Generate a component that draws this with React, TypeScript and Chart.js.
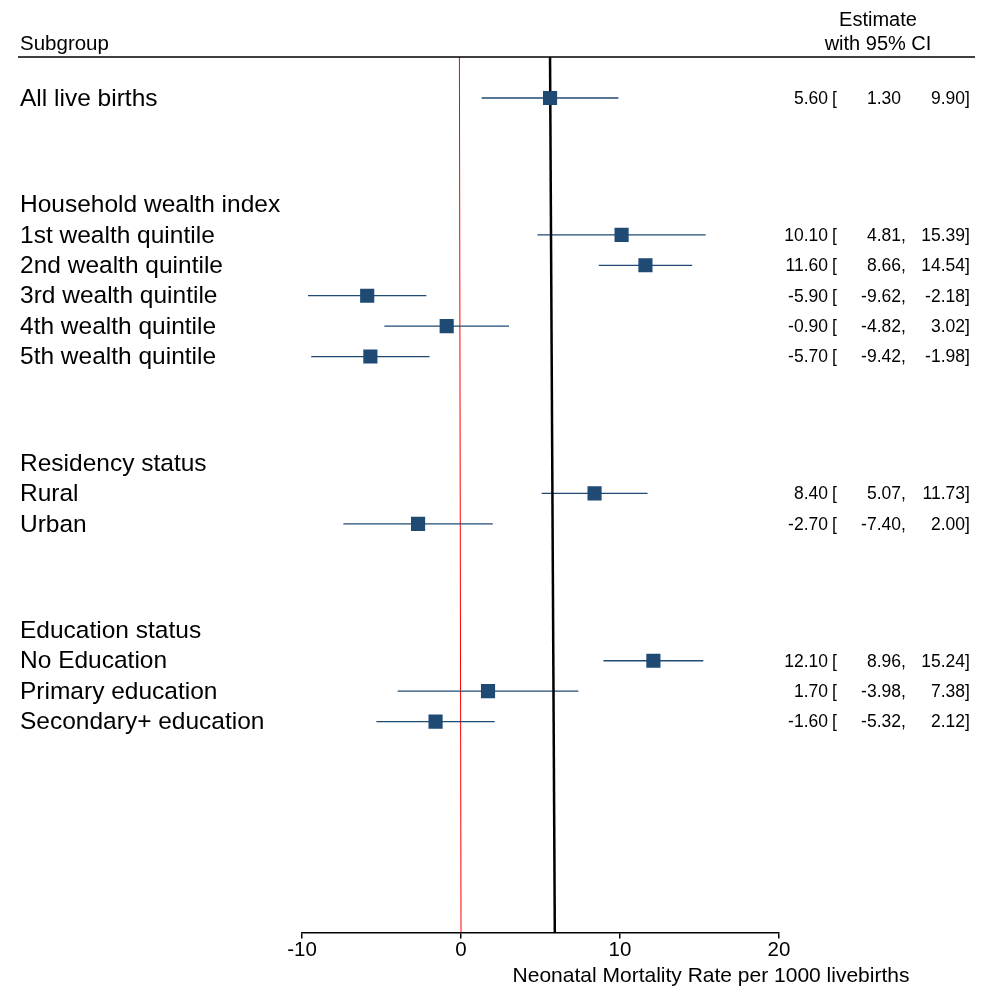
import React, { useEffect, useRef } from "react";
import { Chart, registerables } from "chart.js";

Chart.register(...registerables);

const rowLabels = [
  "All live births",
  "Household wealth index",
  "1st wealth quintile",
  "2nd wealth quintile",
  "3rd wealth quintile",
  "4th wealth quintile",
  "5th wealth quintile",
  "Residency status",
  "Rural",
  "Urban",
  "Education status",
  "No Education",
  "Primary education",
  "Secondary+ education",
];
const rowPositions = [0, 3.5, 4.5, 5.5, 6.5, 7.5, 8.5, 12, 13, 14, 17.5, 18.5, 19.5, 20.5];
const estimates = [5.6, null, 10.1, 11.6, -5.9, -0.9, -5.7, null, 8.4, -2.7, null, 12.1, 1.7, -1.6];
const lowerCI = [1.3, null, 4.81, 8.66, -9.62, -4.82, -9.42, null, 5.07, -7.4, null, 8.96, -3.98, -5.32];
const upperCI = [9.9, null, 15.39, 14.54, -2.18, 3.02, -1.98, null, 11.73, 2.0, null, 15.24, 7.38, 2.12];
const ciSeparators = ["", "", ",", ",", ",", ",", ",", "", ",", ",", "", ",", ",", ","];
const xTicks = [-10, 0, 10, 20];
const nullLineX = [-0.1, 0];
const overallLineX = [5.6, 5.9];
const xTitle = "Neonatal Mortality Rate per 1000 livebirths";

const Y_MIN = -1.347;
const Y_MAX = 27.43;
const FONT = "'Liberation Sans', Arial, Helvetica, sans-serif";
const BLUE = "#1f4a74";

const textPlugin = {
  id: "forestText",
  afterDraw(chart: any) {
    const ctx = chart.ctx as CanvasRenderingContext2D;
    const ys = chart.scales.y;
    const top = chart.chartArea.top;
    ctx.save();
    ctx.fillStyle = "#000";
    ctx.textBaseline = "middle";
    // header
    ctx.font = `20.5px ${FONT}`;
    ctx.textAlign = "left";
    ctx.fillText("Subgroup", 20, 44);
    ctx.font = `20px ${FONT}`;
    ctx.textAlign = "center";
    ctx.fillText("Estimate", 878, 20);
    ctx.fillText("with 95% CI", 878, 44);
    // rule
    ctx.strokeStyle = "#000";
    ctx.lineWidth = 1.5;
    ctx.beginPath();
    ctx.moveTo(18, top);
    ctx.lineTo(975, top);
    ctx.stroke();
    // rows
    rowLabels.forEach((lab, i) => {
      const py = ys.getPixelForValue(rowPositions[i]);
      ctx.font = `24.5px ${FONT}`;
      ctx.textAlign = "left";
      ctx.fillText(lab, 20, py + 1);
      const est = estimates[i];
      if (est === null) return;
      ctx.font = `17.5px ${FONT}`;
      ctx.textAlign = "right";
      ctx.fillText(est.toFixed(2), 828, py + 1);
      ctx.textAlign = "left";
      ctx.fillText("[", 832, py + 1);
      ctx.textAlign = "right";
      ctx.fillText((lowerCI[i] as number).toFixed(2), 901, py + 1);
      ctx.textAlign = "left";
      ctx.fillText(ciSeparators[i], 901, py + 1);
      ctx.textAlign = "right";
      ctx.fillText((upperCI[i] as number).toFixed(2), 965, py + 1);
      ctx.textAlign = "left";
      ctx.fillText("]", 965, py + 1);
    });
    // axis title
    ctx.font = `21px ${FONT}`;
    ctx.textAlign = "center";
    ctx.fillText(xTitle, 711, 976);
    ctx.restore();
  },
};

export default function App() {
  const ref = useRef<HTMLCanvasElement>(null);
  useEffect(() => {
    document.body.style.margin = "0";
    const ciDatasets = rowLabels
      .map((_, i) => i)
      .filter((i) => estimates[i] !== null)
      .map((i) => ({
        type: "line" as const,
        data: [
          { x: lowerCI[i], y: rowPositions[i] },
          { x: upperCI[i], y: rowPositions[i] },
        ],
        borderColor: BLUE,
        borderWidth: 1.3,
        pointRadius: 0,
        order: 2,
      }));
    const pointData = rowLabels
      .map((_, i) => i)
      .filter((i) => estimates[i] !== null)
      .map((i) => ({ x: estimates[i], y: rowPositions[i] }));

    const chart = new Chart(ref.current!, {
      type: "scatter",
      data: {
        datasets: [
          {
            type: "scatter",
            data: pointData,
            pointStyle: "rect",
            pointRadius: 10,
            backgroundColor: BLUE,
            borderWidth: 0,
            order: 0,
          } as any,
          {
            type: "line",
            data: [
              { x: overallLineX[0], y: Y_MIN },
              { x: overallLineX[1], y: Y_MAX },
            ],
            borderColor: "#000",
            borderWidth: 2.5,
            pointRadius: 0,
            order: 1,
          },
          {
            type: "line",
            data: [
              { x: nullLineX[0], y: Y_MIN },
              { x: nullLineX[1], y: Y_MAX },
            ],
            borderColor: "#ff0000",
            borderWidth: 1,
            pointRadius: 0,
            order: 3,
          },
          ...ciDatasets,
        ],
      },
      options: {
        responsive: false,
        animation: false,
        layout: { padding: { left: 302, right: 206, top: 57, bottom: 25 } },
        plugins: { legend: { display: false }, tooltip: { enabled: false } },
        scales: {
          x: {
            type: "linear",
            min: -10,
            max: 20,
            afterBuildTicks: (s: any) => {
              s.ticks = xTicks.map((v) => ({ value: v }));
            },
            grid: {
              display: true,
              drawOnChartArea: false,
              drawTicks: true,
              tickLength: 6,
              color: "#000",
              lineWidth: 1.5,
            },
            border: { display: true, color: "#000", width: 1.5 },
            ticks: {
              color: "#000",
              padding: 0,
              font: { family: FONT, size: 20.5 },
              maxRotation: 0,
              autoSkip: false,
            },
          },
          y: {
            type: "linear",
            display: false,
            reverse: true,
            min: Y_MIN,
            max: Y_MAX,
          },
        },
      },
      plugins: [textPlugin],
    });
    return () => chart.destroy();
  }, []);
  return (
    <div style={{ position: "absolute", left: 0, top: 0, width: 985, height: 988, background: "#fff" }}>
      <canvas ref={ref} width={985} height={988} />
    </div>
  );
}
